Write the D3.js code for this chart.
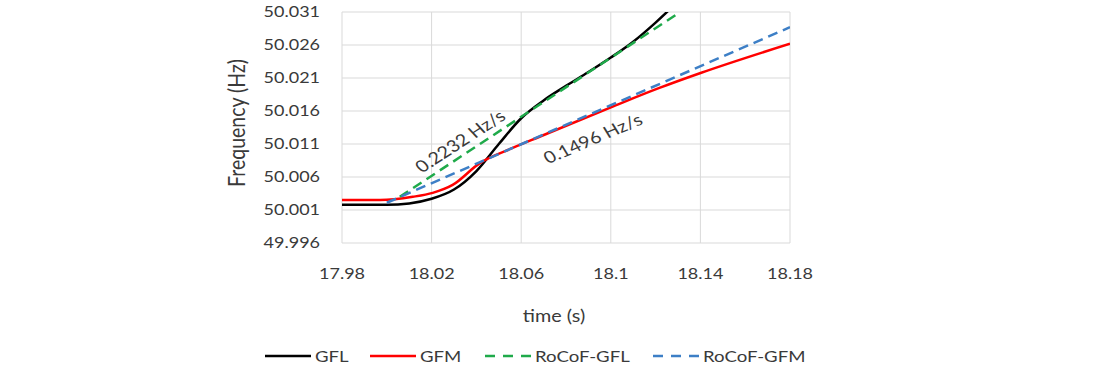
<!DOCTYPE html>
<html>
<head>
<meta charset="utf-8">
<script src="https://cdn.jsdelivr.net/npm/d3@7"></script>
<style>
  body { margin: 0; background: #fff; }
  text { font-family: Lato, "Open Sans", sans-serif; fill: #3a3a3a; }
</style>
</head>
<body>
<script>

// tick labels
var xTicks = [17.98, 18.02, 18.06, 18.1, 18.14, 18.18];
var yTicks = [49.996, 50.001, 50.006, 50.011, 50.016, 50.021, 50.026, 50.031];

// GFL frequency (black)
var gflTime = [17.98, 18.0, 18.01, 18.02, 18.03, 18.04, 18.05, 18.06, 18.07, 18.08, 18.09, 18.1, 18.11, 18.12, 18.13];
var gflFreq = [50.0018, 50.0018, 50.0020, 50.0027, 50.0041, 50.0069, 50.0110, 50.0149, 50.0176, 50.0198, 50.0219, 50.0241, 50.0265, 50.0294, 50.0326];

// GFM frequency (red)
var gfmTime = [17.98, 17.997, 18.0116, 18.0205, 18.0294, 18.0415, 18.0562, 18.0682, 18.1003, 18.1217, 18.1404, 18.18];
var gfmFreq = [50.0025, 50.0025, 50.0030, 50.0036, 50.0048, 50.0081, 50.0104, 50.0121, 50.0166, 50.0195, 50.0218, 50.0262];

// RoCoF tangent lines (start / end)
var rocofGflTime = [18.0058, 18.1292];
var rocofGflFreq = [50.0030, 50.0306];
var rocofGfmTime = [18.0, 18.18];
var rocofGfmFreq = [50.0021, 50.0287];

var slopeLabels = ["0.2232 Hz/s", "0.1496 Hz/s"];
var legendNames = ["GFL", "GFM", "RoCoF-GFL", "RoCoF-GFM"];

var margin = {top: 12, left: 342},
    width = 448,
    height = 231,
    stretch = 1.2;

var xScale = d3.scaleLinear().domain([17.98, 18.18]).range([0, width]);
var yScale = d3.scaleLinear().domain([49.996, 50.031]).range([height, 0]);

var zip = function(t, f) {
  return t.map(function(d, i) { return {"x": d, "y": f[i]}; });
};

var series = [
  {name: "GFL", data: zip(gflTime, gflFreq), color: "#000000", dash: null, curve: d3.curveMonotoneX},
  {name: "GFM", data: zip(gfmTime, gfmFreq), color: "#ff0000", dash: null, curve: d3.curveMonotoneX},
  {name: "RoCoF-GFL", data: zip(rocofGflTime, rocofGflFreq), color: "#1faa4a", dash: "10,6", curve: d3.curveLinear},
  {name: "RoCoF-GFM", data: zip(rocofGfmTime, rocofGfmFreq), color: "#3d7fc6", dash: "10,6", curve: d3.curveLinear}
];

var svg = d3.select("body").append("svg")
    .attr("width", 1100)
    .attr("height", 374);

svg.append("defs").append("clipPath").attr("id", "plotclip")
  .append("rect")
    .attr("x", 0).attr("y", 0)
    .attr("width", width).attr("height", height);

var g = svg.append("g")
    .attr("transform", "translate(" + margin.left + "," + margin.top + ")");

// gridlines
g.selectAll(".hgrid")
    .data(yTicks)
    .enter().append("line")
    .attr("x1", 0).attr("x2", width)
    .attr("y1", function(d) { return yScale(d); })
    .attr("y2", function(d) { return yScale(d); })
    .attr("stroke", "#d9d9d9")
    .attr("stroke-width", 1);

g.selectAll(".vgrid")
    .data(xTicks)
    .enter().append("line")
    .attr("x1", function(d) { return xScale(d); })
    .attr("x2", function(d) { return xScale(d); })
    .attr("y1", 0).attr("y2", height)
    .attr("stroke", "#d9d9d9")
    .attr("stroke-width", 1);

// tick labels (picture is stretched sideways, so text is too)
g.selectAll(".ylab")
    .data(yTicks)
    .enter().append("text")
    .attr("transform", function(d) { return "translate(-22," + yScale(d) + ") scale(" + stretch + ",1)"; })
    .attr("text-anchor", "end")
    .attr("dy", "0.36em")
    .style("font-size", "15px")
    .text(function(d) { return d3.format(".3f")(d); });

g.selectAll(".xlab")
    .data(xTicks)
    .enter().append("text")
    .attr("transform", function(d) { return "translate(" + xScale(d) + "," + (height + 36) + ") scale(" + stretch + ",1)"; })
    .attr("text-anchor", "middle")
    .style("font-size", "15px")
    .text(function(d) { return String(d); });

// axis titles
svg.append("text")
    .attr("transform", "translate(554,322) scale(" + stretch + ",1)")
    .attr("text-anchor", "middle")
    .style("font-size", "16.5px")
    .text("time (s)");

svg.append("text")
    .attr("transform", "translate(237,123) scale(" + stretch + ",1) rotate(-90)")
    .attr("text-anchor", "middle")
    .attr("dy", "0.35em")
    .style("font-size", "19.5px")
    .text("Frequency (Hz)");

// lines
var plot = g.append("g").attr("clip-path", "url(#plotclip)");

series.forEach(function(s) {
  var line = d3.line()
      .x(function(d) { return xScale(d.x); })
      .y(function(d) { return yScale(d.y); })
      .curve(s.curve);
  plot.append("path")
      .datum(s.data)
      .attr("d", line)
      .attr("fill", "none")
      .attr("stroke", s.color)
      .attr("stroke-width", 2.5)
      .attr("stroke-dasharray", s.dash);
});

// slope annotations
var annot = [
  {text: slopeLabels[0], x: 18.0328, y: 50.0114, angle: 38},
  {text: slopeLabels[1], x: 18.092, y: 50.0118, angle: 27}
];
g.selectAll(".annot")
    .data(annot)
    .enter().append("text")
    .attr("transform", function(d) {
      return "translate(" + xScale(d.x) + "," + yScale(d.y) + ") scale(" + stretch + ",1) rotate(" + (-d.angle) + ")";
    })
    .attr("text-anchor", "middle")
    .attr("dy", "0.35em")
    .style("font-size", "16.5px")
    .text(function(d) { return d.text; });

// legend
var legendX = [265, 370, 485, 653];
var legend = svg.selectAll(".legend")
    .data(series)
    .enter().append("g")
    .attr("transform", function(d, i) { return "translate(" + legendX[i] + ",356)"; });

legend.append("line")
    .attr("x1", 0).attr("x2", 46)
    .attr("y1", 0).attr("y2", 0)
    .attr("stroke", function(d) { return d.color; })
    .attr("stroke-width", 2.5)
    .attr("stroke-dasharray", function(d) { return d.dash ? "10,8" : null; });

legend.append("text")
    .attr("transform", "translate(50,0) scale(" + stretch + ",1)")
    .attr("dy", "0.36em")
    .style("font-size", "15.5px")
    .text(function(d, i) { return legendNames[i]; });

</script>
</body>
</html>
